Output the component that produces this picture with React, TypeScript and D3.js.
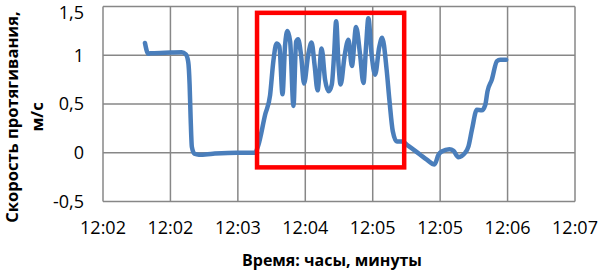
import React from "react";
import * as d3 from "d3";

// seconds after 12:02:00
const timeSec = [
  28.0, 30.2, 31.4, 41.4, 52.5, 55.3, 56.9, 57.8, 58.5, 59.3, 61.0, 64.0, 73.4, 89.3, 101.5,
  103.7, 108.2, 111.5, 113.7, 115.8, 117.7, 119.8, 121.5, 123.1, 124.9, 127.1, 128.9,
  130.2, 132.2, 134.2, 136.9, 139.2, 141.2, 143.2, 145.9, 148.2, 150.6, 152.7, 154.2,
  155.6, 157.2, 158.6, 161.3, 163.8, 166.1, 168.9, 171.6, 173.8, 175.6, 177.1, 179.3,
  181.6, 184.3, 186.3, 189.3, 191.2, 193.4, 196.1, 199.4, 203.8, 211.7, 216.1, 221.2,
  223.9, 226.1, 231.2, 233.9, 237.2, 241.7, 243.9, 246.2, 249.5, 252.8, 255.1, 256.6,
  259.5, 262.9, 265.1, 269.1,
];
const speed = [
  1.125, 1.015, 1.02, 1.025, 1.03, 1.01, 0.93, 0.7, 0.35, 0.06, -0.01, -0.02, -0.01, 0.0, 0.0,
  0.08, 0.39, 0.59, 0.94, 1.12, 1.09, 0.6, 1.1, 1.25, 1.14, 0.48, 1.14,
  1.165, 1.0, 0.71, 1.0, 1.13, 0.9, 0.64, 1.07, 0.75, 0.63, 0.7, 1.0,
  1.35, 0.9, 0.7, 1.0, 1.16, 0.89, 1.29, 1.0, 0.715, 1.1, 1.38, 1.0,
  0.8, 1.08, 1.18, 0.85, 0.53, 0.22, 0.115, 0.115, 0.07, -0.02, -0.07, -0.12,
  -0.02, 0.013, 0.037, 0.02, -0.045, 0.0, 0.065, 0.235, 0.44, 0.435, 0.49, 0.63,
  0.75, 0.94, 0.955, 0.955,
];

const xDomainSec = [0, 315];
const xTickSec = [0, 45, 90, 135, 180, 225, 270, 315];
const yTicks = [-0.5, 0, 0.5, 1, 1.5];
const highlightSec = [102.8, 201];
const highlightSpeed = [-0.15, 1.435];

const xTitle = "Время: часы, минуты";
const yTitleLines = ["Скорость протягивания,", "м/с"];

const base = new Date(2000, 0, 1, 12, 2, 0).getTime();
const toDate = (s: number) => new Date(base + s * 1000);

export default function App() {
  const W = 598, H = 271;
  const x = d3.scaleTime().domain(xDomainSec.map(toDate)).range([103, 575]);
  const y = d3.scaleLinear().domain([-0.5, 1.5]).range([201.5, 6.5]);
  const fmtT = d3.timeFormat("%H:%M");
  const loc = d3.formatLocale({ decimal: ",", thousands: " ", grouping: [3], currency: ["", ""], minus: "-" });
  const fmtY = loc.format("~g");
  const pts = timeSec.map((t, i) => [toDate(t), speed[i]] as [Date, number]);
  const line = d3.line<[Date, number]>().x(d => x(d[0])).y(d => y(d[1])).curve(d3.curveMonotoneX);
  const font = "'Open Sans', sans-serif";
  const grid = "#878787";
  const rx0 = x(toDate(highlightSec[0])), rx1 = x(toDate(highlightSec[1]));
  const ry0 = y(highlightSpeed[1]), ry1 = y(highlightSpeed[0]);
  return (
    <svg width={W} height={H} style={{ position: "absolute", left: 0, top: 0, background: "#fff" }}>
      <rect width={W} height={H} fill="#fff" />
      {yTicks.map(v => (
        <line key={"gy" + v} x1={103} x2={575} y1={y(v)} y2={y(v)} stroke={grid} strokeWidth={1.5} />
      ))}
      {xTickSec.map(s => (
        <line key={"gx" + s} x1={x(toDate(s))} x2={x(toDate(s))} y1={y(1.5)} y2={y(-0.5)} stroke={grid} strokeWidth={1.5} />
      ))}
      {yTicks.map(v => (
        <text key={"ty" + v} x={84} y={Math.max(y(v), 13)} dy="0.35em" textAnchor="end" fontFamily={font} fontSize={18} fill="#000">
          {fmtY(v)}
        </text>
      ))}
      {xTickSec.map(s => (
        <text key={"tx" + s} x={x(toDate(s))} y={228} dy="0.35em" textAnchor="middle" fontFamily={font} fontSize={18} fill="#000">
          {fmtT(toDate(s))}
        </text>
      ))}
      <path d={line(pts) || ""} fill="none" stroke="#4a7ebb" strokeWidth={4.5} strokeLinejoin="round" strokeLinecap="round" />
      <rect x={rx0} y={ry0} width={rx1 - rx0} height={ry1 - ry0} fill="none" stroke="#ff0000" strokeWidth={4.5} />
      <text x={332} y={266} textAnchor="middle" fontFamily={font} fontSize={16} fontWeight="bold" fill="#000">
        {xTitle}
      </text>
      <g transform="translate(0,117) rotate(-90)">
        <text x={0} y={18} textAnchor="middle" fontFamily={font} fontSize={16.5} fontWeight="bold" fill="#000">
          {yTitleLines[0]}
        </text>
        <text x={0} y={43} textAnchor="middle" fontFamily={font} fontSize={16.5} fontWeight="bold" fill="#000">
          {yTitleLines[1]}
        </text>
      </g>
    </svg>
  );
}
